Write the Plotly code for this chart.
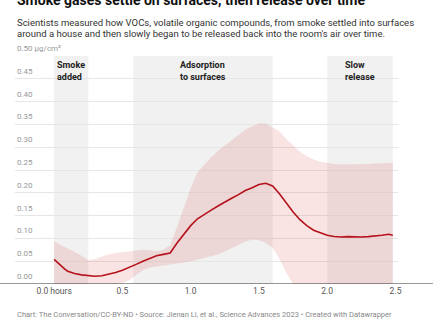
import plotly.graph_objects as go

hours = [0.00, 0.02, 0.05, 0.08, 0.10, 0.15, 0.20, 0.25, 0.30, 0.35, 0.40, 0.45,
         0.50, 0.55, 0.60, 0.65, 0.70, 0.75, 0.80, 0.85, 0.90, 0.95, 1.00, 1.05,
         1.10, 1.15, 1.20, 1.25, 1.30, 1.35, 1.40, 1.45, 1.50, 1.55, 1.60, 1.65,
         1.70, 1.75, 1.80, 1.85, 1.90, 1.95, 2.00, 2.05, 2.10, 2.15, 2.20, 2.25,
         2.30, 2.35, 2.40, 2.45, 2.48]
mean_voc = [0.054, 0.048, 0.040, 0.032, 0.028, 0.023, 0.020, 0.018, 0.017, 0.018, 0.021, 0.025,
            0.030, 0.036, 0.043, 0.050, 0.056, 0.062, 0.065, 0.068, 0.090, 0.110, 0.128, 0.143,
            0.153, 0.162, 0.171, 0.180, 0.188, 0.196, 0.205, 0.211, 0.218, 0.221, 0.215, 0.198,
            0.178, 0.158, 0.141, 0.128, 0.118, 0.112, 0.107, 0.104, 0.103, 0.104, 0.103, 0.103,
            0.104, 0.105, 0.107, 0.109, 0.107]
upper_voc = [0.095, 0.090, 0.085, 0.080, 0.078, 0.070, 0.062, 0.052, 0.055, 0.060, 0.065, 0.068,
             0.070, 0.072, 0.074, 0.075, 0.074, 0.072, 0.075, 0.085, 0.125, 0.170, 0.210, 0.245,
             0.262, 0.278, 0.292, 0.303, 0.315, 0.327, 0.338, 0.346, 0.352, 0.352, 0.344, 0.335,
             0.318, 0.303, 0.290, 0.280, 0.273, 0.268, 0.265, 0.263, 0.262, 0.262, 0.263, 0.262,
             0.263, 0.264, 0.265, 0.267, 0.266]
lower_voc = [0.000, 0.000, 0.000, 0.000, 0.000, 0.000, 0.000, 0.000, 0.000, 0.000, 0.000, 0.000,
             0.002, 0.008, 0.020, 0.030, 0.036, 0.038, 0.040, 0.042, 0.045, 0.047, 0.050, 0.053,
             0.057, 0.061, 0.065, 0.071, 0.078, 0.085, 0.093, 0.097, 0.096, 0.090, 0.080, 0.055,
             0.025, 0.000, 0.000, 0.000, 0.000, 0.000, 0.000, 0.000, 0.000, 0.000, 0.000, 0.000,
             0.000, 0.000, 0.000, 0.000, 0.000]

phase_names = ["Smoke<br>added", "Adsorption<br>to surfaces", "Slow<br>release"]
phase_start = [0.0, 0.58, 2.0]
phase_end = [0.25, 1.6, 2.48]

y_ticks = [0.00, 0.05, 0.10, 0.15, 0.20, 0.25, 0.30, 0.35, 0.40, 0.45, 0.50]
y_tick_labels = ["0.00", "0.05", "0.10", "0.15", "0.20", "0.25", "0.30", "0.35", "0.40", "0.45", "0.50 µg/cm²"]
x_ticks = [0.0, 0.5, 1.0, 1.5, 2.0, 2.5]
x_tick_labels = ["0.0 hours", "0.5", "1.0", "1.5", "2.0", "2.5"]

W, H = 436, 332
FONT = "Roboto"

def py(px):
    return 1 - px / H

fig = go.Figure()
fig.add_trace(go.Scatter(x=hours, y=lower_voc, mode="lines", line=dict(width=0),
                         hoverinfo="skip", showlegend=False))
fig.add_trace(go.Scatter(x=hours, y=upper_voc, mode="lines", line=dict(width=0),
                         fill="tonexty", fillcolor="rgba(215,40,40,0.13)",
                         hoverinfo="skip", showlegend=False))
fig.add_trace(go.Scatter(x=hours, y=mean_voc, mode="lines",
                         line=dict(color="#b5121b", width=1.6), showlegend=False))

shapes = []
for s, e in zip(phase_start, phase_end):
    shapes.append(dict(type="rect", xref="x", yref="y", x0=s, x1=e, y0=0, y1=0.5,
                       fillcolor="#f1f1f1", line=dict(width=0), layer="below"))
shapes.append(dict(type="line", xref="paper", yref="y", x0=0, x1=1, y0=0, y1=0,
                   line=dict(color="#333333", width=1)))

annotations = []
for name, s, e in zip(phase_names, phase_start, phase_end):
    annotations.append(dict(x=(s + e) / 2, y=py(58), xref="x", yref="paper", text="<b>" + name + "</b>",
                            showarrow=False, xanchor="center", yanchor="top", align="left",
                            font=dict(family=FONT, size=9, color="#222222")))
for v, t in zip(y_ticks, y_tick_labels):
    annotations.append(dict(x=15 / W, y=v, xref="paper", yref="y", text=t, showarrow=False,
                            xanchor="left", yanchor="bottom", yshift=1,
                            font=dict(family=FONT, size=8, color="#999999")))
annotations.append(dict(x=15 / W, y=py(10), xref="paper", yref="paper",
                        text="<b>Smoke gases settle on surfaces, then release over time</b>",
                        showarrow=False, xanchor="left", yanchor="bottom",
                        font=dict(family=FONT, size=14, color="#111111")))
annotations.append(dict(x=15 / W, y=py(23), xref="paper", yref="paper",
                        text="Scientists measured how VOCs, volatile organic compounds, from smoke settled into surfaces",
                        showarrow=False, xanchor="left", yanchor="middle",
                        font=dict(family=FONT, size=9.5, color="#333333")))
annotations.append(dict(x=15 / W, y=py(34), xref="paper", yref="paper",
                        text="around a house and then slowly began to be released back into the room's air over time.",
                        showarrow=False, xanchor="left", yanchor="middle",
                        font=dict(family=FONT, size=9.5, color="#333333")))
annotations.append(dict(x=15 / W, y=py(314), xref="paper", yref="paper",
                        text="Chart: The Conversation/CC-BY-ND • Source: Jienan Li, et al., Science Advances 2023 • Created with Datawrapper",
                        showarrow=False, xanchor="left", yanchor="middle",
                        font=dict(family=FONT, size=7.5, color="#888888")))

x0_px, x1_px = 15, 401
zero_px, px_per_hr = 54.5, 137.5
fig.update_layout(
    width=W, height=H, margin=dict(l=0, r=0, t=0, b=0),
    paper_bgcolor="white", plot_bgcolor="white",
    xaxis=dict(domain=[x0_px / W, x1_px / W],
               range=[(x0_px - zero_px) / px_per_hr, (x1_px - zero_px) / px_per_hr],
               tickvals=x_ticks, ticktext=x_tick_labels, showgrid=False, zeroline=False,
               showline=False, ticks="", tickfont=dict(family=FONT, size=8.5, color="#555555")),
    yaxis=dict(domain=[(H - 284) / H, (H - 56) / H], range=[0, 0.5],
               tickvals=y_ticks, showticklabels=False, showgrid=True, gridcolor="#e6e6e6",
               gridwidth=1, zeroline=False, showline=False),
    shapes=shapes, annotations=annotations,
)
fig.write_html("out.html")
